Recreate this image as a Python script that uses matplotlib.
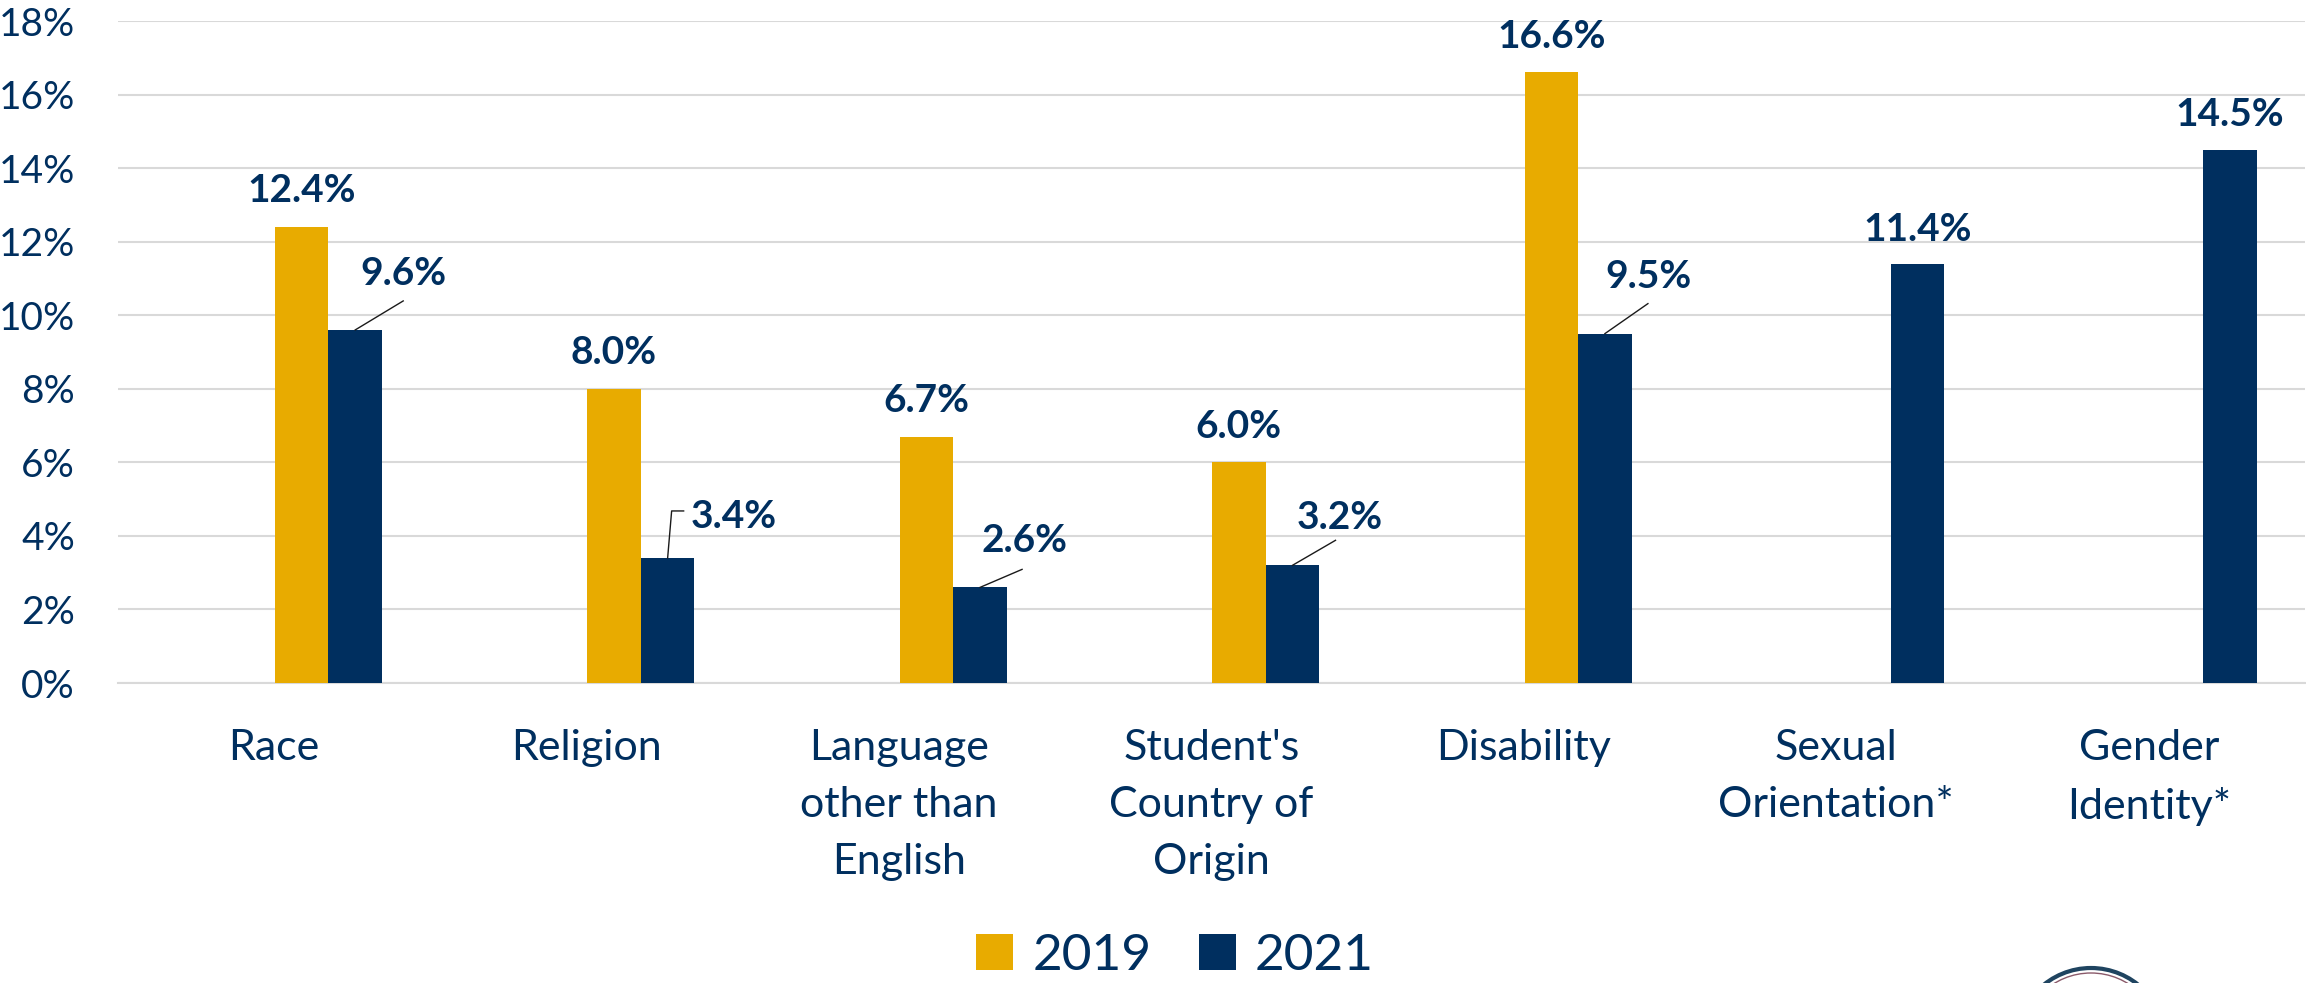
"""Bias-related incidents by category, 2019 vs 2021."""
import matplotlib
matplotlib.use("Agg")
import matplotlib.pyplot as plt
import numpy as np
from matplotlib.patches import Circle
from matplotlib.transforms import IdentityTransform

categories = ["Race", "Religion", "Language\nother than\nEnglish", "Student's\nCountry of\nOrigin",
              "Disability", "Sexual\nOrientation*", "Gender\nIdentity*"]
values_2019 = [12.4, 8.0, 6.7, 6.0, 16.6, np.nan, np.nan]
values_2021 = [9.6, 3.4, 2.6, 3.2, 9.5, 11.4, 14.5]
y_ticks = [0, 2, 4, 6, 8, 10, 12, 14, 16, 18]

GOLD = "#E8AB00"
NAVY = "#002F5F"
GRID = "#D9D9D9"
WIDTH, HEIGHT = 2306, 983
BAR = 0.1715
SHIFT = 0.002

plt.rcParams["font.family"] = ["Lato", "DejaVu Sans"]

fig = plt.figure(figsize=(WIDTH / 100, HEIGHT / 100), dpi=100)
ax = fig.add_axes([118 / WIDTH, 1 - 683 / HEIGHT, (2305 - 118) / WIDTH, (683 - 21) / HEIGHT])

x = np.arange(len(categories))
bars_2019 = ax.bar(x + SHIFT, values_2019, BAR, align="edge", color=GOLD, label="2019", zorder=3)
bars_2021 = ax.bar(x + SHIFT + BAR, values_2021, BAR, align="edge", color=NAVY, label="2021", zorder=3)

ax.set_xlim(-0.5, 6.5)
ax.set_ylim(0, 18)
ax.set_yticks(y_ticks, [f"{t}%" for t in y_ticks])
ax.set_xticks(x, categories, linespacing=1.62)
ax.tick_params(axis="y", length=0, pad=31, labelsize=28, labelcolor=NAVY)
ax.tick_params(axis="x", length=0, pad=33, labelsize=31, labelcolor=NAVY)
ax.grid(axis="y", color=GRID, linewidth=1.5, zorder=0)
ax.set_axisbelow(True)
for side in ["top", "right", "left"]:
    ax.spines[side].set_visible(False)
ax.spines["bottom"].set_color(GRID)
ax.spines["bottom"].set_linewidth(1.5)

# 2019 labels sit straight above their bars
for bar, value in zip(bars_2019, values_2019):
    if np.isnan(value):
        continue
    ax.annotate(f"{value:.1f}%", (bar.get_x() + bar.get_width() / 2, value), xytext=(0, 36),
                textcoords="offset pixels", ha="center", va="center", fontsize=28,
                fontweight="bold", color=NAVY, zorder=5)

# 2021 labels: pixel offset of the text, and of the leader line points, per category
label_offsets = [(48, 56), (66, 41), (44, 47), (47, 48), (44, 57), (0, 34), (0, 35)]
leaders = [[(48, 29)], [(4, 47), (16, 47)], [(42, 18)], [(43, 25)], [(43, 30)], None, None]
for bar, value, offset, leader in zip(bars_2021, values_2021, label_offsets, leaders):
    top = (bar.get_x() + bar.get_width() / 2, value)
    ax.annotate(f"{value:.1f}%", top, xytext=offset, textcoords="offset pixels", ha="center",
                va="center", fontsize=28, fontweight="bold", color=NAVY, zorder=5)
    if leader:
        start = ax.transData.transform(top)
        pts = np.array([start] + [start + np.array(p) for p in leader])
        ax.plot(pts[:, 0], pts[:, 1], color="#1A1A1A", linewidth=1, transform=IdentityTransform(),
                zorder=4, clip_on=False)

ax.legend(loc="center", bbox_to_anchor=(1175 / WIDTH, 1 - 956 / HEIGHT), bbox_transform=fig.transFigure,
          ncol=2, frameon=False, fontsize=37, labelcolor=NAVY, handlelength=0.72, handleheight=0.7,
          handletextpad=0.37, columnspacing=0.92, borderpad=0)

# top of the seal, cut off by the bottom edge
fig.add_artist(Circle((2091, -60), 75, transform=IdentityTransform(), facecolor="white",
                      edgecolor="#1F4460", linewidth=3))
fig.add_artist(Circle((2091, -60), 70, transform=IdentityTransform(), facecolor="white",
                      edgecolor="#8A5A6A", linewidth=1))

fig.savefig("out.png", dpi=100)
